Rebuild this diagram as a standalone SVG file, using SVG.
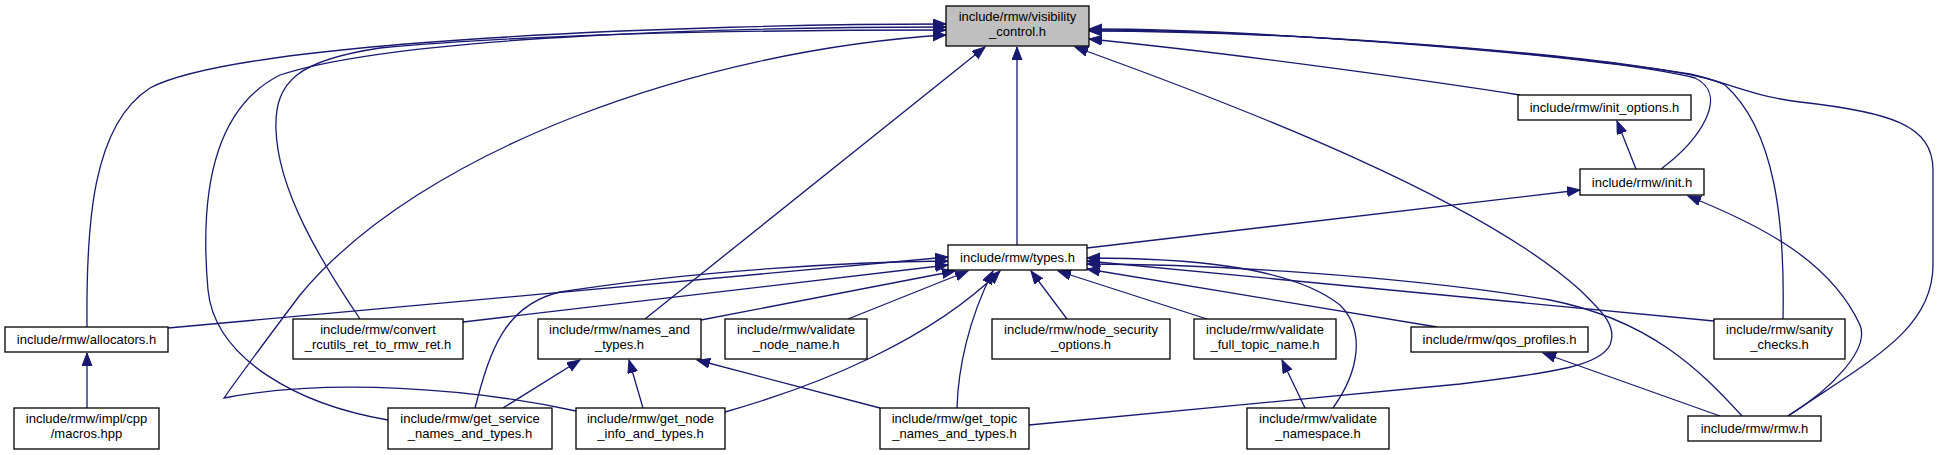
<svg xmlns="http://www.w3.org/2000/svg" width="1939" height="455" viewBox="0 0 1939 455">
<style>
rect.n{fill:#fff;stroke:#000;stroke-width:1.3}
rect.g{fill:#bfbfbf;stroke:#000;stroke-width:1.3}
text{font-family:"Liberation Sans",Arial,Helvetica,sans-serif;font-size:13px;fill:#000;text-anchor:middle}
#edges path{fill:none;stroke:#191970;stroke-width:1.3;marker-end:url(#ah)}
</style>
<defs>
<marker id="ah" markerUnits="userSpaceOnUse" markerWidth="14" markerHeight="11" refX="13" refY="5" orient="auto">
<path d="M0,0 L13,5 L0,10 z" fill="#191970" stroke="#191970" stroke-width="1"/>
</marker>
</defs>
<rect width="1939" height="455" fill="#fff"/>
<g id="edges">
<path d="M87,327 C86,225 92,125 150,88 C240,40 700,24 946,24"/>
<path d="M388,420 C300,405 215,360 208,290 C200,200 210,110 280,75 C400,35 750,27 946,27"/>
<path d="M360,319 C320,260 278,190 276,130 C274,80 300,60 380,48 C550,32 800,30 946,30"/>
<path d="M576,411 C470,388 330,378 224,398 C240,375 270,335 300,295 C420,150 700,50 946,35"/>
<path d="M645,319 L985,47"/>
<path d="M1017,245 L1017,47"/>
<path d="M1029,425 L1460,384 C1560,372 1600,365 1610,345 C1618,325 1600,310 1580,290 C1480,200 1250,110 1075,47"/>
<path d="M1520,95 C1450,84 1250,55 1089,39"/>
<path d="M1661,169 C1700,140 1730,95 1695,78 C1600,55 1250,29 1089,29"/>
<path d="M1783,319 C1785,220 1775,130 1725,85 C1680,60 1300,30 1089,30"/>
<path d="M1788,416 C1870,360 1933,330 1933,265 L1933,170 C1933,125 1890,112 1800,102 C1750,96 1720,80 1690,74 C1500,45 1250,31 1089,31"/>
<path d="M168,328 L948,257"/>
<path d="M475,408 C490,350 505,305 560,292 C700,270 850,262 948,261"/>
<path d="M463,322 L948,265"/>
<path d="M701,320 L955,271"/>
<path d="M848,319 L968,271"/>
<path d="M725,412 C820,385 930,340 1000,271"/>
<path d="M957,408 C958,370 968,320 993,271"/>
<path d="M1067,319 L1031,271"/>
<path d="M1207,319 L1058,271"/>
<path d="M1333,408 C1360,370 1365,330 1340,305 C1290,265 1180,258 1087,258"/>
<path d="M1714,321 L1087,261"/>
<path d="M1742,416 C1700,370 1650,320 1550,300 C1400,275 1200,264 1087,264"/>
<path d="M1437,327 L1087,269"/>
<path d="M1087,248 L1580,190"/>
<path d="M1636,169 L1617,121"/>
<path d="M1788,416 C1830,390 1870,350 1860,325 C1830,260 1760,225 1688,196"/>
<path d="M1720,416 L1543,353"/>
<path d="M503,408 L580,360"/>
<path d="M643,408 L629,360"/>
<path d="M880,408 L697,360"/>
<path d="M1305,408 L1282,360"/>
<path d="M87,408 L87,353"/>
</g>
<g id="vis"><rect class="g" x="946" y="6" width="143" height="40"/><text x="1017.5" y="21">include/rmw/visibility</text><text x="1017.5" y="36">_control.h</text></g>
<g id="init_options"><rect class="n" x="1518" y="95" width="173" height="25"/><text x="1604.5" y="112">include/rmw/init_options.h</text></g>
<g id="init"><rect class="n" x="1580" y="169" width="124" height="26"/><text x="1642" y="186.5">include/rmw/init.h</text></g>
<g id="types"><rect class="n" x="948" y="245" width="139" height="25"/><text x="1017.5" y="262">include/rmw/types.h</text></g>
<g id="allocators"><rect class="n" x="5" y="327" width="163" height="25"/><text x="86.5" y="344">include/rmw/allocators.h</text></g>
<g id="convert"><rect class="n" x="293" y="319" width="170" height="40"/><text x="378" y="334">include/rmw/convert</text><text x="378" y="349">_rcutils_ret_to_rmw_ret.h</text></g>
<g id="names_and_types"><rect class="n" x="538" y="319" width="163" height="40"/><text x="619.5" y="334">include/rmw/names_and</text><text x="619.5" y="349">_types.h</text></g>
<g id="validate_node_name"><rect class="n" x="725" y="319" width="142" height="40"/><text x="796" y="334">include/rmw/validate</text><text x="796" y="349">_node_name.h</text></g>
<g id="node_security_options"><rect class="n" x="992" y="319" width="178" height="40"/><text x="1081" y="334">include/rmw/node_security</text><text x="1081" y="349">_options.h</text></g>
<g id="validate_full_topic_name"><rect class="n" x="1194" y="319" width="142" height="40"/><text x="1265" y="334">include/rmw/validate</text><text x="1265" y="349">_full_topic_name.h</text></g>
<g id="qos_profiles"><rect class="n" x="1411" y="327" width="177" height="25"/><text x="1499.5" y="344">include/rmw/qos_profiles.h</text></g>
<g id="sanity_checks"><rect class="n" x="1714" y="319" width="131" height="40"/><text x="1779.5" y="334">include/rmw/sanity</text><text x="1779.5" y="349">_checks.h</text></g>
<g id="macros"><rect class="n" x="14" y="408" width="145" height="41"/><text x="86.5" y="423">include/rmw/impl/cpp</text><text x="86.5" y="438">/macros.hpp</text></g>
<g id="get_service"><rect class="n" x="388" y="408" width="164" height="41"/><text x="470" y="423">include/rmw/get_service</text><text x="470" y="438">_names_and_types.h</text></g>
<g id="get_node_info"><rect class="n" x="576" y="408" width="149" height="41"/><text x="650.5" y="423">include/rmw/get_node</text><text x="650.5" y="438">_info_and_types.h</text></g>
<g id="get_topic"><rect class="n" x="880" y="408" width="149" height="41"/><text x="954.5" y="423">include/rmw/get_topic</text><text x="954.5" y="438">_names_and_types.h</text></g>
<g id="validate_namespace"><rect class="n" x="1247" y="408" width="142" height="41"/><text x="1318" y="423">include/rmw/validate</text><text x="1318" y="438">_namespace.h</text></g>
<g id="rmw"><rect class="n" x="1688" y="416" width="133" height="25"/><text x="1754.5" y="433">include/rmw/rmw.h</text></g>
</svg>
